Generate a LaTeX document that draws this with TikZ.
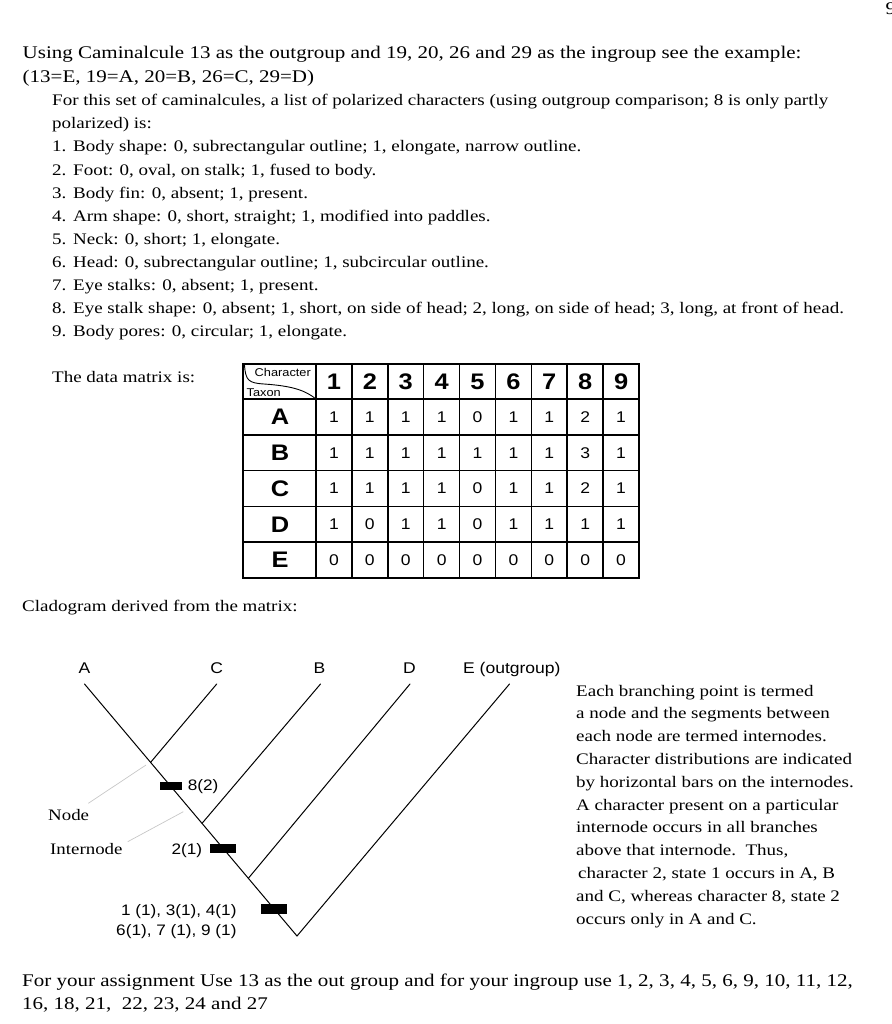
\documentclass[tikz,border=0pt]{standalone}
\usepackage{fontspec}
\setmainfont{Liberation Serif}[FakeStretch=1.18]
\setsansfont{Liberation Sans}[FakeStretch=1.13]
\usetikzlibrary{calc}
\begin{document}
\begin{tikzpicture}[x=1pt,y=-1pt,
  head/.style={anchor=base west,inner sep=0pt,font=\fontsize{17.8}{22}\selectfont},
  para/.style={anchor=base west,inner sep=0pt,font=\fontsize{16.1}{19}\selectfont},
  lbl/.style={anchor=base,inner sep=0pt,font=\sffamily\fontsize{15.5}{19}\selectfont},
  ann/.style={inner sep=0pt,font=\sffamily\fontsize{15.2}{19}\selectfont},
  side/.style={anchor=base west,inner sep=0pt,font=\fontsize{16}{20}\selectfont},
  branch/.style={line width=1pt,line cap=round},
  leader/.style={draw=black!22,line width=0.7pt},
  charbar/.style={fill=black,inner sep=0pt,minimum width=26pt,minimum height=9pt},
  gridline/.style={line width=1.5pt},
  hnum/.style={font=\sffamily\bfseries\fontsize{22.5}{24}\selectfont,inner sep=0pt},
  val/.style={font=\sffamily\fontsize{15.5}{18}\selectfont,inner sep=0pt},
  small/.style={font=\sffamily\fontsize{11.3}{13}\selectfont,inner sep=0pt}
]
\useasboundingbox (0,0) rectangle (891,1024);

% cut-off page number at top right
\node[head,anchor=base west] (pg) at (885.5,15) {9};

% heading
\node[head] (h1) at (22.5,58.3) {Using Caminalcule 13 as the outgroup and 19, 20, 26 and 29 as the ingroup see the example:};
\node[head] (h2) at (22.5,83) {(13=E, 19=A, 20=B, 26=C, 29=D)};

% intro and character list
\node[para] (p1) at (52,106) {For this set of caminalcules, a list of polarized characters (using outgroup comparison; 8 is only partly};
\node[para] (p2) at (52,129) {polarized) is:};
\foreach \t [count=\k] in {
  {Body shape: 0, subrectangular outline; 1, elongate, narrow outline.},
  {Foot: 0, oval, on stalk; 1, fused to body.},
  {Body fin: 0, absent; 1, present.},
  {Arm shape: 0, short, straight; 1, modified into paddles.},
  {Neck: 0, short; 1, elongate.},
  {Head: 0, subrectangular outline; 1, subcircular outline.},
  {Eye stalks: 0, absent; 1, present.},
  {Eye stalk shape: 0, absent; 1, short, on side of head; 2, long, on side of head; 3, long, at front of head.},
  {Body pores: 0, circular; 1, elongate.}}{
  \node[para] (n\k) at (52,{152+23.1*(\k-1)}) {\k.};
  \node[para] (l\k) at (73,{152+23.1*(\k-1)}) {\t};
}

% data matrix
\node[para] (dm) at (52,382) {The data matrix is:};
\draw[gridline] (243,364) rectangle (639,578);
\draw[gridline] (316,364) -- (316,578);
\foreach \k in {1,...,8} \draw[gridline] ({316+35.89*\k},364) -- ({316+35.89*\k},578);
\draw[gridline] (243,399) -- (639,399);
\foreach \k in {1,...,4} \draw[gridline] (243,{399+35.8*\k}) -- (639,{399+35.8*\k});
\draw[line width=0.9pt] (244.5,365) .. controls (245.5,381) and (249,383) .. (264,384)
   .. controls (294,386) and (306,391) .. (316,399);
\node[small,anchor=base east] (chr) at (311,376.5) {Character};
\node[small,anchor=base west] (tax) at (246.5,396.5) {Taxon};
\foreach \k in {1,...,9} \node[hnum] (hd\k) at ({316+35.89*(\k-0.5)},381.5) {\k};
\foreach \r/\vals [count=\i] in {A/{1,1,1,1,0,1,1,2,1},B/{1,1,1,1,1,1,1,3,1},C/{1,1,1,1,0,1,1,2,1},D/{1,0,1,1,0,1,1,1,1},E/{0,0,0,0,0,0,0,0,0}}{
  \node[hnum] (row\r) at (280,{399+35.8*(\i-0.5)}) {\r};
  \foreach \v [count=\j] in \vals
    \node[val] (c\r\j) at ({316+35.89*(\j-0.5)},{399+35.8*(\i-0.5)}) {\v};
}

% cladogram
\node[para] (cd) at (22,611) {Cladogram derived from the matrix:};
\coordinate (root) at (297,936);
\coordinate (tipA) at (84.5,684);
\coordinate (tipC) at (216.7,684);
\coordinate (tipB) at (320.5,684);
\coordinate (tipD) at (410,684);
\coordinate (tipE) at (509.5,684);
\coordinate (nAC) at ($(root)!0.689!(tipA)$);
\coordinate (nB) at ($(root)!0.447!(tipA)$);
\coordinate (nD) at ($(root)!0.229!(tipA)$);
\draw[branch] (tipA) -- (root) -- (tipE);
\draw[branch] (nAC) -- (tipC);
\draw[branch] (nB) -- (tipB);
\draw[branch] (nD) -- (tipD);
\node[lbl] (la) at (84.5,673) {A};
\node[lbl] (lc) at (216.7,673) {C};
\node[lbl] (lb) at (319.5,673) {B};
\node[lbl] (ld) at (409.5,673) {D};
\node[lbl,anchor=base west] (le) at (463,673) {E (outgroup)};

\node[charbar,minimum width=22.5pt,minimum height=8pt] (bar1) at ($(root)!0.594!(tipA)$) {};
\node[charbar] (bar2) at ($(root)!0.346!(tipA)$) {};
\node[charbar,minimum height=9.7pt] (bar3) at ($(root)!0.106!(tipA)$) {};
\node[ann,anchor=base west] (a1) at (187.7,790.5) {8(2)};
\node[ann,anchor=base east] (a2) at (202.3,854) {2(1)};
\node[ann,anchor=base east] (a3) at (236.7,915) {1 (1), 3(1), 4(1)};
\node[ann,anchor=base east] (a4) at (236.7,935.5) {6(1), 7 (1), 9 (1)};

\node[side] (nodelbl) at (48,820.7) {Node};
\node[side] (intlbl) at (50,854) {Internode};
\coordinate (ln0) at (88.3,803.3);
\coordinate (ln1) at (146,765);
\coordinate (li0) at (127.7,841.7);
\coordinate (li1) at (183.3,811.7);
\draw[leader] (ln0) -- (ln1);
\draw[leader] (li0) -- (li1);

% explanation
\foreach \t [count=\k] in {
  {Each branching point is termed},
  {a node and the segments between},
  {each node are termed internodes.},
  {Character distributions are indicated},
  {by horizontal bars on the internodes.},
  {A character present on a particular},
  {internode occurs in all branches},
  {above that internode.\ \ Thus,},
  {\hspace{2pt}character 2, state 1 occurs in A, B},
  {and C, whereas character 8, state 2},
  {occurs only in A and C.}}{
  \node[para] (e\k) at (576,{696+22.8*(\k-1)}) {\t};
}

% assignment
\node[head] (f1) at (22,986) {For your assignment Use 13 as the out group and for your ingroup use 1, 2, 3, 4, 5, 6, 9, 10, 11, 12,};
\node[head] (f2) at (22,1009) {16, 18, 21,\ \ 22, 23, 24 and 27};
\end{tikzpicture}
\end{document}
